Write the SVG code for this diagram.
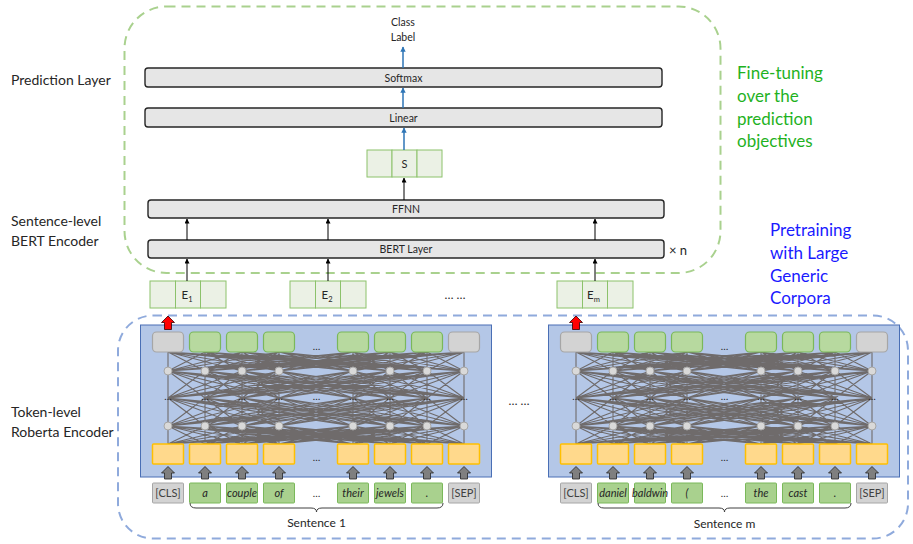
<svg xmlns="http://www.w3.org/2000/svg" xmlns:xlink="http://www.w3.org/1999/xlink" width="913" height="544" viewBox="0 0 913 544">
  <style>
    text { font-family: Lato, "Liberation Sans", "DejaVu Sans", sans-serif; fill: #262626; }
    .side { font-size: 14px; }
    .fine { font-size: 17px; fill: #1fb21f; }
    .pre { font-size: 17px; fill: #1a1aff; }
    .lbl { font-size: 10.5px; text-anchor: middle; }
    .layer { fill: #e6e6e6; stroke: #262626; stroke-width: 1.4; }
    .cell { fill: #ebf1e5; stroke: #8cc26b; stroke-width: 1; }
    .dash-g { fill: none; stroke: #a9d18e; stroke-width: 2; stroke-dasharray: 9 6; }
    .dash-b { fill: none; stroke: #8faadc; stroke-width: 2; stroke-dasharray: 9 6; }
    .panel { fill: #b4c7e7; stroke: #4a6fb5; stroke-width: 1; }
    .out-g { fill: #b7d99f; stroke: #7ab85a; stroke-width: 1.2; }
    .out-x { fill: #d3d3d3; stroke: #a6a6a6; stroke-width: 1.2; }
    .emb { fill: #ffd98c; stroke: #ffc000; stroke-width: 1.5; }
    .node { fill: #d9d9d9; stroke: #a6a6a6; stroke-width: 1; }
    .mesh { fill: none; stroke: #6f6b6b; stroke-width: 1.1; vector-effect: non-scaling-stroke; }
    .tok-g { fill: #a9d18e; stroke: #7ab85a; stroke-width: 1; }
    .tok-x { fill: #d3d3d3; stroke: #a6a6a6; stroke-width: 1; }
    .tok { font-size: 11px; text-anchor: middle; font-style: italic; }
    .tokx { font-size: 11px; text-anchor: middle; fill: #404040; }
    .dots { font-size: 10px; text-anchor: middle; }
    .brace { fill: none; stroke: #404040; stroke-width: 1; }
    .arr-k { stroke: #000; stroke-width: 1; fill: none; }
    .arr-b { stroke: #2e75b6; stroke-width: 1.5; fill: none; }
  </style>
  <defs>
    <marker id="head-k" viewBox="0 0 10 10" refX="9" refY="5" markerWidth="5" markerHeight="5" orient="auto">
      <path d="M0,0 L10,5 L0,10 z" fill="#000"/>
    </marker>
    <marker id="head-b" viewBox="0 0 10 10" refX="9" refY="5" markerWidth="3.6" markerHeight="3.6" orient="auto">
      <path d="M0,0 L10,5 L0,10 z" fill="#2e75b6"/>
    </marker>
    <!-- block arrows, centred on x=0 -->
    <path id="up-red" d="M0,316 L6.5,322.5 L3.5,322.5 L3.5,329.5 L-3.5,329.5 L-3.5,322.5 L-6.5,322.5 z" fill="#ff0000" stroke="#300" stroke-width="0.8"/>
    <path id="up-gray" d="M0,466.5 L6.5,473 L3.5,473 L3.5,479 L-3.5,479 L-3.5,473 L-6.5,473 z" fill="#7f7f7f" stroke="#262626" stroke-width="0.8"/>
    <!-- full 8x8 connection pattern between two rows, unit height -->
    <path id="k88" class="mesh" d="M168 0 168 1M168 0 205 1M168 0 242 1M168 0 279 1M168 0 353 1M168 0 390 1M168 0 427 1M168 0 464 1M205 0 168 1M205 0 205 1M205 0 242 1M205 0 279 1M205 0 353 1M205 0 390 1M205 0 427 1M205 0 464 1M242 0 168 1M242 0 205 1M242 0 242 1M242 0 279 1M242 0 353 1M242 0 390 1M242 0 427 1M242 0 464 1M279 0 168 1M279 0 205 1M279 0 242 1M279 0 279 1M279 0 353 1M279 0 390 1M279 0 427 1M279 0 464 1M353 0 168 1M353 0 205 1M353 0 242 1M353 0 279 1M353 0 353 1M353 0 390 1M353 0 427 1M353 0 464 1M390 0 168 1M390 0 205 1M390 0 242 1M390 0 279 1M390 0 353 1M390 0 390 1M390 0 427 1M390 0 464 1M427 0 168 1M427 0 205 1M427 0 242 1M427 0 279 1M427 0 353 1M427 0 390 1M427 0 427 1M427 0 464 1M464 0 168 1M464 0 205 1M464 0 242 1M464 0 279 1M464 0 353 1M464 0 390 1M464 0 427 1M464 0 464 1"/>
    <!-- token-level encoder body (left copy; the second one is shifted) -->
    <g id="encoder-core">
      <rect class="panel" x="140.5" y="325" width="351" height="152"/>
      <use href="#k88" transform="translate(0 352) scale(1 19)"/>
      <use href="#k88" transform="translate(0 371) scale(1 27)"/>
      <use href="#k88" transform="translate(0 398) scale(1 28)"/>
      <use href="#k88" transform="translate(0 426) scale(1 18)"/>
      <rect class="out-x" x="152.5" y="332" width="31" height="20" rx="4"/>
      <rect class="out-g" x="189.5" y="332" width="31" height="20" rx="4"/>
      <rect class="out-g" x="226.5" y="332" width="31" height="20" rx="4"/>
      <rect class="out-g" x="263.5" y="332" width="31" height="20" rx="4"/>
      <rect class="out-g" x="337.5" y="332" width="31" height="20" rx="4"/>
      <rect class="out-g" x="374.5" y="332" width="31" height="20" rx="4"/>
      <rect class="out-g" x="411.5" y="332" width="31" height="20" rx="4"/>
      <rect class="out-x" x="448.5" y="332" width="31" height="20" rx="4"/>
      <g class="node">
        <circle cx="168" cy="371" r="4"/><circle cx="205" cy="371" r="4"/><circle cx="242" cy="371" r="4"/><circle cx="279" cy="371" r="4"/>
        <circle cx="353" cy="371" r="4"/><circle cx="390" cy="371" r="4"/><circle cx="427" cy="371" r="4"/><circle cx="464" cy="371" r="4"/>
        <circle cx="168" cy="426" r="4"/><circle cx="205" cy="426" r="4"/><circle cx="242" cy="426" r="4"/><circle cx="279" cy="426" r="4"/>
        <circle cx="353" cy="426" r="4"/><circle cx="390" cy="426" r="4"/><circle cx="427" cy="426" r="4"/><circle cx="464" cy="426" r="4"/>
      </g>
      <g class="dots">
        <text x="168" y="400">…</text><text x="205" y="400">…</text><text x="242" y="400">…</text><text x="279" y="400">…</text>
        <text x="316.5" y="400">…</text>
        <text x="353" y="400">…</text><text x="390" y="400">…</text><text x="427" y="400">…</text><text x="464" y="400">…</text>
        <text x="316.5" y="350">…</text>
        <text x="316.5" y="461">…</text>
      </g>
      <rect class="emb" x="152.5" y="444" width="31" height="20" rx="1"/>
      <rect class="emb" x="189.5" y="444" width="31" height="20" rx="1"/>
      <rect class="emb" x="226.5" y="444" width="31" height="20" rx="1"/>
      <rect class="emb" x="263.5" y="444" width="31" height="20" rx="1"/>
      <rect class="emb" x="337.5" y="444" width="31" height="20" rx="1"/>
      <rect class="emb" x="374.5" y="444" width="31" height="20" rx="1"/>
      <rect class="emb" x="411.5" y="444" width="31" height="20" rx="1"/>
      <rect class="emb" x="448.5" y="444" width="31" height="20" rx="1"/>
      <use href="#up-red" x="168"/>
      <use href="#up-gray" x="168"/><use href="#up-gray" x="205"/><use href="#up-gray" x="242"/><use href="#up-gray" x="279"/>
      <use href="#up-gray" x="353"/><use href="#up-gray" x="390"/><use href="#up-gray" x="427"/><use href="#up-gray" x="464"/>
      <rect class="tok-x" x="152.5" y="483" width="31" height="20" rx="1"/>
      <rect class="tok-g" x="189.5" y="483" width="31" height="20" rx="1"/>
      <rect class="tok-g" x="226.5" y="483" width="31" height="20" rx="1"/>
      <rect class="tok-g" x="263.5" y="483" width="31" height="20" rx="1"/>
      <rect class="tok-g" x="337.5" y="483" width="31" height="20" rx="1"/>
      <rect class="tok-g" x="374.5" y="483" width="31" height="20" rx="1"/>
      <rect class="tok-g" x="411.5" y="483" width="31" height="20" rx="1"/>
      <rect class="tok-x" x="448.5" y="483" width="31" height="20" rx="1"/>
      <text class="tokx" x="168" y="497">[CLS]</text>
      <text class="tokx" x="464" y="497">[SEP]</text>
      <text class="dots" x="316.5" y="497">…</text>
    </g>
  </defs>

  <!-- side captions -->
  <g id="captions">
    <text class="side" x="11" y="85">Prediction Layer</text>
    <text class="side" x="11" y="226">Sentence-level</text>
    <text class="side" x="11" y="246">BERT Encoder</text>
    <text class="side" x="11" y="417">Token-level</text>
    <text class="side" x="11" y="437">Roberta Encoder</text>
    <text class="fine" x="737" y="79">Fine-tuning</text>
    <text class="fine" x="737" y="102">over the</text>
    <text class="fine" x="737" y="125">prediction</text>
    <text class="fine" x="737" y="147">objectives</text>
    <text class="pre" x="770" y="236">Pretraining</text>
    <text class="pre" x="770" y="259">with Large</text>
    <text class="pre" x="770" y="282">Generic</text>
    <text class="pre" x="770" y="304">Corpora</text>
  </g>

  <!-- dashed regions -->
  <rect id="finetune-region" class="dash-g" x="124.5" y="6.5" width="596" height="266.5" rx="42"/>
  <rect id="pretrain-region" class="dash-b" x="118" y="315.5" width="790" height="223" rx="35"/>

  <!-- prediction layer -->
  <g id="class-label">
    <text class="lbl" x="403" y="26" style="font-size:10.5px">Class</text>
    <text class="lbl" x="403" y="41" style="font-size:10.5px">Label</text>
  </g>
  <g id="softmax">
    <rect class="layer" x="145" y="68" width="517" height="19" rx="3"/>
    <text class="lbl" x="403.5" y="81.5">Softmax</text>
  </g>
  <g id="linear">
    <rect class="layer" x="145" y="108" width="517" height="19" rx="3"/>
    <text class="lbl" x="403.5" y="121.5">Linear</text>
  </g>
  <g id="s-vector">
    <rect class="cell" x="367" y="150" width="25" height="27"/>
    <rect class="cell" x="392" y="150" width="25" height="27"/>
    <rect class="cell" x="417" y="150" width="25" height="27"/>
    <text class="lbl" x="404.5" y="167.5" style="font-size:11px">S</text>
  </g>

  <!-- sentence-level encoder -->
  <g id="ffnn">
    <rect class="layer" x="148" y="200" width="516" height="18" rx="3"/>
    <text class="lbl" x="406" y="212.5">FFNN</text>
  </g>
  <g id="bert-layer">
    <rect class="layer" x="148" y="240" width="516" height="18" rx="3"/>
    <text class="lbl" x="406" y="252.5">BERT Layer</text>
    <text x="669" y="255" style="font-size:13px">× n</text>
  </g>
  <g id="e1">
    <rect class="cell" x="150" y="281" width="25.5" height="27"/>
    <rect class="cell" x="175.5" y="281" width="25" height="27"/>
    <rect class="cell" x="200.5" y="281" width="25.5" height="27"/>
    <text x="181.5" y="299" style="font-size:11.5px">E<tspan dy="3" style="font-size:7.5px">1</tspan></text>
  </g>
  <g id="e2">
    <rect class="cell" x="290" y="281" width="25.5" height="27"/>
    <rect class="cell" x="315.5" y="281" width="25" height="27"/>
    <rect class="cell" x="340.5" y="281" width="25.5" height="27"/>
    <text x="321.5" y="299" style="font-size:11.5px">E<tspan dy="3" style="font-size:7.5px">2</tspan></text>
  </g>
  <text x="455" y="299" class="lbl" style="font-size:12px">… …</text>
  <g id="em">
    <rect class="cell" x="557" y="281" width="25.5" height="27"/>
    <rect class="cell" x="582.5" y="281" width="25" height="27"/>
    <rect class="cell" x="607.5" y="281" width="25.5" height="27"/>
    <text x="587" y="299" style="font-size:11.5px">E<tspan dy="3" style="font-size:7.5px">m</tspan></text>
  </g>

  <!-- token-level encoders -->
  <g id="encoder-1">
    <use href="#encoder-core"/>
    <text class="tok" x="205" y="497">a</text>
    <text class="tok" x="242" y="497">couple</text>
    <text class="tok" x="279" y="497">of</text>
    <text class="tok" x="353" y="497">their</text>
    <text class="tok" x="390" y="497">jewels</text>
    <text class="tok" x="427" y="497">.</text>
    <path class="brace" d="M190,503 Q190,508 196,508 L311,508 Q316.5,508 316.5,512 Q316.5,508 322,508 L437,508 Q443,508 443,503"/>
    <text class="lbl" x="316.5" y="527" style="font-size:12px">Sentence 1</text>
  </g>
  <text class="lbl" x="519" y="405" style="font-size:12px">… …</text>
  <g id="encoder-m">
    <use href="#encoder-core" x="408"/>
    <text class="tok" x="613" y="497">daniel</text>
    <text class="tok" x="650" y="497">baldwin</text>
    <text class="tok" x="687" y="497">(</text>
    <text class="tok" x="761" y="497">the</text>
    <text class="tok" x="798" y="497">cast</text>
    <text class="tok" x="835" y="497">.</text>
    <path class="brace" d="M598,503 Q598,508 604,508 L719,508 Q724.5,508 724.5,512 Q724.5,508 730,508 L845,508 Q851,508 851,503"/>
    <text class="lbl" x="724.5" y="528" style="font-size:12px">Sentence m</text>
  </g>

  <!-- connectors -->
  <g id="connectors">
    <path class="arr-b" d="M403,68 V47" marker-end="url(#head-b)"/>
    <path class="arr-b" d="M403,108 V88" marker-end="url(#head-b)"/>
    <path class="arr-b" d="M404,150 V128" marker-end="url(#head-b)"/>
    <path class="arr-k" d="M404,200 V178" marker-end="url(#head-k)"/>
    <path class="arr-k" d="M187,240 V219" marker-end="url(#head-k)"/>
    <path class="arr-k" d="M328,240 V219" marker-end="url(#head-k)"/>
    <path class="arr-k" d="M595,240 V219" marker-end="url(#head-k)"/>
    <path class="arr-k" d="M187,281 V259" marker-end="url(#head-k)"/>
    <path class="arr-k" d="M328,281 V259" marker-end="url(#head-k)"/>
    <path class="arr-k" d="M595,281 V259" marker-end="url(#head-k)"/>
  </g>
</svg>
